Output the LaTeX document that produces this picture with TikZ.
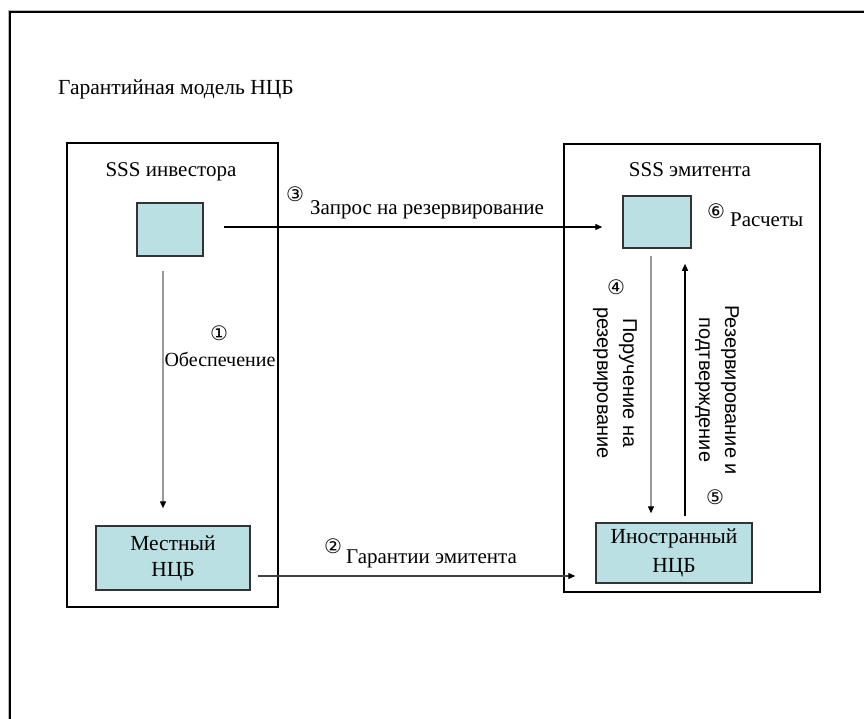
\documentclass[tikz,border=0pt]{standalone}
\usepackage{fontspec}
\setmainfont{Liberation Serif}
\newfontfamily\labelsans{Liberation Sans}
\newfontfamily\circledfont{DejaVu Sans}
\usetikzlibrary{arrows.meta,calc}
\definecolor{boxfill}{HTML}{BBE0E3}
\definecolor{boxline}{HTML}{333333}
\definecolor{softline}{HTML}{999999}

\begin{document}
\begin{tikzpicture}[x=1pt,y=-1pt,
  txt/.style={font=\fontsize{21}{24}\selectfont, inner sep=0pt},
  rtxt/.style={font=\labelsans\fontsize{20}{26}\selectfont, inner sep=0pt, align=center, rotate=-90},
  num/.style={font=\circledfont\fontsize{20}{20}\selectfont, inner sep=0pt},
  container/.style={draw=black, line width=1.2pt, inner sep=0pt},
  bank/.style={draw=boxline, fill=boxfill, line width=1.5pt, inner sep=0pt, align=center,
    font=\fontsize{21.5}{29}\selectfont},
  flow/.style={line width=1.4pt, -{Triangle[length=7pt,width=6pt,color=black]}},
]
\useasboundingbox (0,0) rectangle (864,719);

% page frame (top and left edges)
\draw[gray!55, line width=1pt] (8.3,730) -- (8.3,10.3) -- (875,10.3);
\draw[line width=2.5pt] (10,730) -- (10,12) -- (875,12);

% title
\node[txt, anchor=base west, font=\fontsize{21.5}{24}\selectfont] (title) at (58,95) {Гарантийная модель НЦБ};

% settlement systems
\node[container, minimum width=211pt, minimum height=464pt] (inv) at (172.5,375) {};
\node[container, minimum width=256pt, minimum height=448pt] (emi) at (692,368) {};
\node[txt, anchor=base] (invlbl) at (171,177) {SSS инвестора};
\node[txt, anchor=base] (emilbl) at (690,177) {SSS эмитента};

% accounts and depositories
\node[bank, minimum width=66pt, minimum height=53pt] (sqL) at (170,229.5) {};
\node[bank, minimum width=68pt, minimum height=52pt] (sqR) at (657,222) {};
\node[bank, minimum width=154pt, minimum height=64pt] (loc) at (173,558) {\raisebox{-3pt}{Местный}\\НЦБ};
\node[bank, minimum width=156pt, minimum height=60pt] (frn) at (674,553) {Иностранный\\НЦБ};

% flows
\draw[flow, draw=softline] ($(sqL.south)+(-7,14)$) -- ($(loc.north)+(-10,-17)$);
\draw[flow, draw=black!75] ($(loc.east)+(7,18)$) -- ($(frn.west)+(-20,23)$);
\draw[flow, draw=black] ($(sqL.east)+(20,-2.5)$) -- ($(sqR.west)+(-20,5)$);
\draw[flow, draw=softline] ($(sqR.south)+(-6,7)$) -- ($(frn.north)+(-23,-9)$);
\draw[flow, draw=black] ($(frn.north)+(11,-6)$) -- ($(sqR.south)+(28,15)$);

% step numbers and labels
\node[num] (n1) at (219,333) {①};
\node[txt, anchor=base, font=\fontsize{20}{24}\selectfont] (l1) at (220,366) {Обеспечение};
\node[num] (n2) at (333,546) {②};
\node[txt, anchor=base west] (l2) at (346,563) {Гарантии эмитента};
\node[num] (n3) at (295,194) {③};
\node[txt, anchor=base west] (l3) at (310,215) {Запрос на резервирование};
\node[num] (n4) at (616,287) {④};
\node[rtxt] (l4) at (615,383) {Поручение на\\резервирование};
\node[num] (n5) at (715,497) {⑤};
\node[rtxt] (l5) at (717,390) {Резервирование и\\подтверждение};
\node[num] (n6) at (716,211) {⑥};
\node[txt, anchor=base west] (l6) at (730,227) {Расчеты};
\end{tikzpicture}
\end{document}
